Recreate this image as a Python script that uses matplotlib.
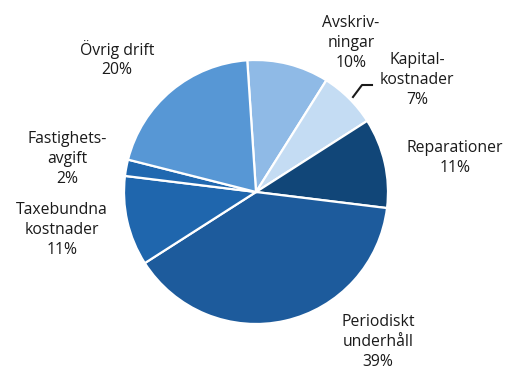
import matplotlib.pyplot as plt

labels = ["Avskriv-\nningar\n10%", "Kapital-\nkostnader\n7%", "Reparationer\n11%",
          "Periodiskt\nunderhåll\n39%", "Taxebundna\nkostnader\n11%",
          "Fastighets-\navgift\n2%", "Övrig drift\n20%"]
values = [10, 7, 11, 39, 11, 2, 20]
colors = ["#8fbae6", "#c4dcf3", "#114678", "#1d5b9c", "#1f66ad", "#2068b0", "#5797d5"]

# label positions in pixel coords (x, y from top)
label_pos = [(351, 43), (417, 80), (455, 158), (378, 342), (62, 230), (67, 159), (117, 59)]

W, H = 509, 372
fig = plt.figure(figsize=(W / 100, H / 100), dpi=100)
ax = fig.add_axes([0, 0, 1, 1])

ax.pie(values, colors=colors, startangle=93.8, counterclock=False,
       center=(256, H - 192), radius=132, frame=True,
       wedgeprops=dict(edgecolor="white", linewidth=1.6))

for txt, (x, y) in zip(labels, label_pos):
    ax.text(x, H - y, txt, ha="center", va="center", fontsize=11.3,
            family="Open Sans", color="#1a1a1a", linespacing=1.3)

# leader line for Kapitalkostnader
ax.plot([353, 362, 372], [H - 97, H - 85, H - 85], color="#1a1a1a", lw=1.5)

ax.set_xlim(0, W)
ax.set_ylim(0, H)
ax.set_aspect("equal")
ax.axis("off")
fig.savefig("out.png", dpi=100)
